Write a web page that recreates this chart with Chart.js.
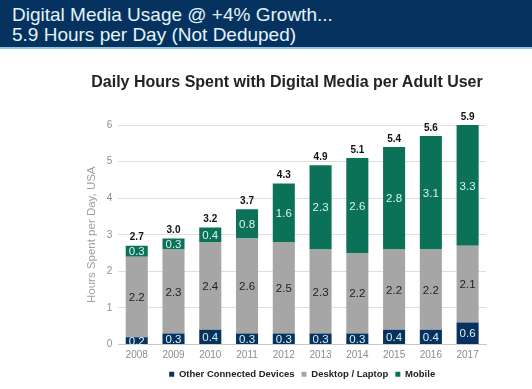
<!DOCTYPE html>
<html>
<head>
<meta charset="utf-8">
<script src="https://cdn.jsdelivr.net/npm/chart.js"></script>
<style>
  body { margin: 0; background: #fff; }
  #wrap { position: relative; width: 532px; height: 389px; }
  #head {
    position: absolute; left: 0; top: 0; width: 532px; height: 49px;
    background: #063260; border-bottom: 2px solid #8cc6e3;
    color: #e2f5f8; font-family: "Liberation Sans", Arial, sans-serif;
    font-size: 19px; line-height: 20px; padding: 5px 0 0 12px; box-sizing: border-box;
  }
  #title {
    position: absolute; left: 0; top: 73px; width: 574px; text-align: center;
    font-family: "Liberation Sans", Arial, sans-serif; font-weight: bold;
    font-size: 16px; color: #222;
  }
  canvas { position: absolute; left: 0; top: 0; }
</style>
</head>
<body>
<div id="wrap">
  <canvas id="chart" width="532" height="389"></canvas>
  <div id="head">Digital Media Usage @ +4% Growth...<br>5.9 Hours per Day (Not Deduped)</div>
  <div id="title">Daily Hours Spent with Digital Media per Adult User</div>
</div>
<script>
let years = ["2008","2009","2010","2011","2012","2013","2014","2015","2016","2017"];
let otherDevices = [0.2, 0.3, 0.4, 0.3, 0.3, 0.3, 0.3, 0.4, 0.4, 0.6];
let desktop = [2.2, 2.3, 2.4, 2.6, 2.5, 2.3, 2.2, 2.2, 2.2, 2.1];
let mobile = [0.3, 0.3, 0.4, 0.8, 1.6, 2.3, 2.6, 2.8, 3.1, 3.3];
let totals = [2.7, 3.0, 3.2, 3.7, 4.3, 4.9, 5.1, 5.4, 5.6, 5.9];

const font = "'Liberation Sans', Arial, sans-serif";

// values inside segments + totals on top
let labelPlugin = {
  id: "labels",
  afterDatasetsDraw(chart) {
    let ctx = chart.ctx;
    ctx.save();
    ctx.textAlign = "center";
    ctx.textBaseline = "middle";
    chart.data.datasets.forEach((ds, di) => {
      let meta = chart.getDatasetMeta(di);
      meta.data.forEach((bar, i) => {
        ctx.font = "11.5px " + font;
        ctx.fillStyle = di === 1 ? "#222222" : "#d8f3f5";
        let y = (bar.y + bar.base) / 2;
        ctx.fillText(ds.data[i].toFixed(1), bar.x, y + 1);
      });
    });
    let top = chart.getDatasetMeta(2);
    ctx.font = "bold 10px " + font;
    ctx.fillStyle = "#111111";
    ctx.textBaseline = "bottom";
    top.data.forEach((bar, i) => {
      ctx.fillText(totals[i].toFixed(1), bar.x, bar.y - 3);
    });
    ctx.restore();
  }
};

new Chart(document.getElementById("chart"), {
  type: "bar",
  data: {
    labels: years,
    datasets: [
      { label: "Other Connected Devices", data: otherDevices, backgroundColor: "#07325f" },
      { label: "Desktop / Laptop", data: desktop, backgroundColor: "#a6a6a6" },
      { label: "Mobile", data: mobile, backgroundColor: "#0b7257" }
    ]
  },
  options: {
    responsive: false,
    animation: false,
    layout: { padding: { top: 125, left: 83, right: 46, bottom: 0 } },
    datasets: { bar: { categoryPercentage: 0.6, barPercentage: 1 } },
    plugins: {
      title: { display: false },
      legend: {
        position: "bottom",
        fullSize: false,
        labels: {
          boxWidth: 5, boxHeight: 5,
          font: { family: font, size: 9.5, weight: "bold" },
          color: "#222222",
          padding: 7
        }
      },
      tooltip: { enabled: false }
    },
    scales: {
      x: {
        stacked: true,
        grid: { display: false, drawTicks: false },
        border: { color: "#c8c8c8" },
        ticks: { color: "#8c8c8c", font: { family: font, size: 10 }, padding: 5 },
        afterFit(scale) { scale.height -= 4; }
      },
      y: {
        stacked: true,
        min: 0, max: 6,
        ticks: { stepSize: 1, color: "#8c8c8c", font: { family: font, size: 10 }, padding: 6 },
        grid: { color: "#dedede", drawTicks: false },
        border: { display: false },
        title: {
          display: true, text: "Hours Spent per Day, USA",
          color: "#a0a0a0", font: { family: font, size: 11.5 }, padding: 2
        }
      }
    }
  },
  plugins: [labelPlugin]
});
</script>
</body>
</html>
